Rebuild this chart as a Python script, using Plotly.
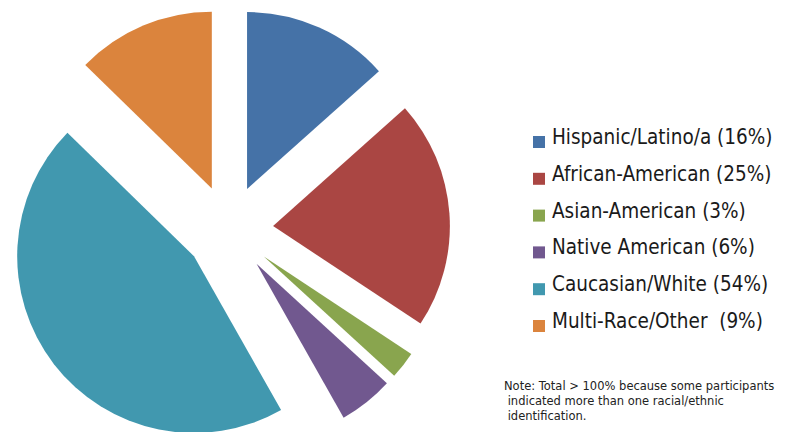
import plotly.graph_objects as go

# Legend labels (as printed in the chart)
categories = ["Hispanic/Latino/a (16%)", "African-American (25%)", "Asian-American (3%)",
              "Native American (6%)", "Caucasian/White (54%)", "Multi-Race/Other  (9%)"]
# Slice shares as drawn in the picture (percent of the full circle)
slice_share = [13.4, 20.9, 2.5, 5.0, 45.5, 12.7]
colors = ["#4572A7", "#AA4643", "#89A54E", "#71588F", "#4198AF", "#DB843D"]
note_text = ("Note: Total > 100% because some participants<br>"
             " indicated more than one racial/ethnic<br> identification.")

W, H = 778, 450
OFF = 8  # page offset of the figure inside the window


def px(x):
    return (x - OFF) / W


def py(y):
    return 1 - (y - OFF) / H


fig = go.Figure(go.Pie(
    labels=categories,
    values=slice_share,
    sort=False,
    direction="clockwise",
    rotation=0,
    pull=0.25,
    marker=dict(colors=colors, line=dict(width=0)),
    textinfo="none",
    showlegend=False,
    domain=dict(x=[0.0, 0.5681], y=[1 - 442.5 / H, 1.0]),
))

shapes = []
annotations = []
row0, step = 142, 36.8
for i, (lab, col) in enumerate(zip(categories, colors)):
    yc = row0 + i * step
    shapes.append(dict(type="rect", xref="paper", yref="paper",
                       x0=px(533), x1=px(545), y0=py(yc + 6), y1=py(yc - 6),
                       fillcolor=col, line=dict(width=0)))
    annotations.append(dict(text=lab, xref="paper", yref="paper",
                            x=px(550), y=py(yc - 5), xanchor="left", yanchor="middle",
                            showarrow=False,
                            font=dict(family="DejaVu Sans Condensed", size=20.5, color="#1a1a1a")))

annotations.append(dict(text=note_text, xref="paper", yref="paper",
                        x=px(502), y=py(377), xanchor="left", yanchor="top", align="left",
                        showarrow=False,
                        font=dict(family="DejaVu Sans", size=11.5, color="#222222")))

fig.update_layout(
    width=W, height=H,
    margin=dict(l=0, r=0, t=0, b=0),
    paper_bgcolor="white", plot_bgcolor="white",
    shapes=shapes, annotations=annotations,
)

fig.write_html("out.html")
